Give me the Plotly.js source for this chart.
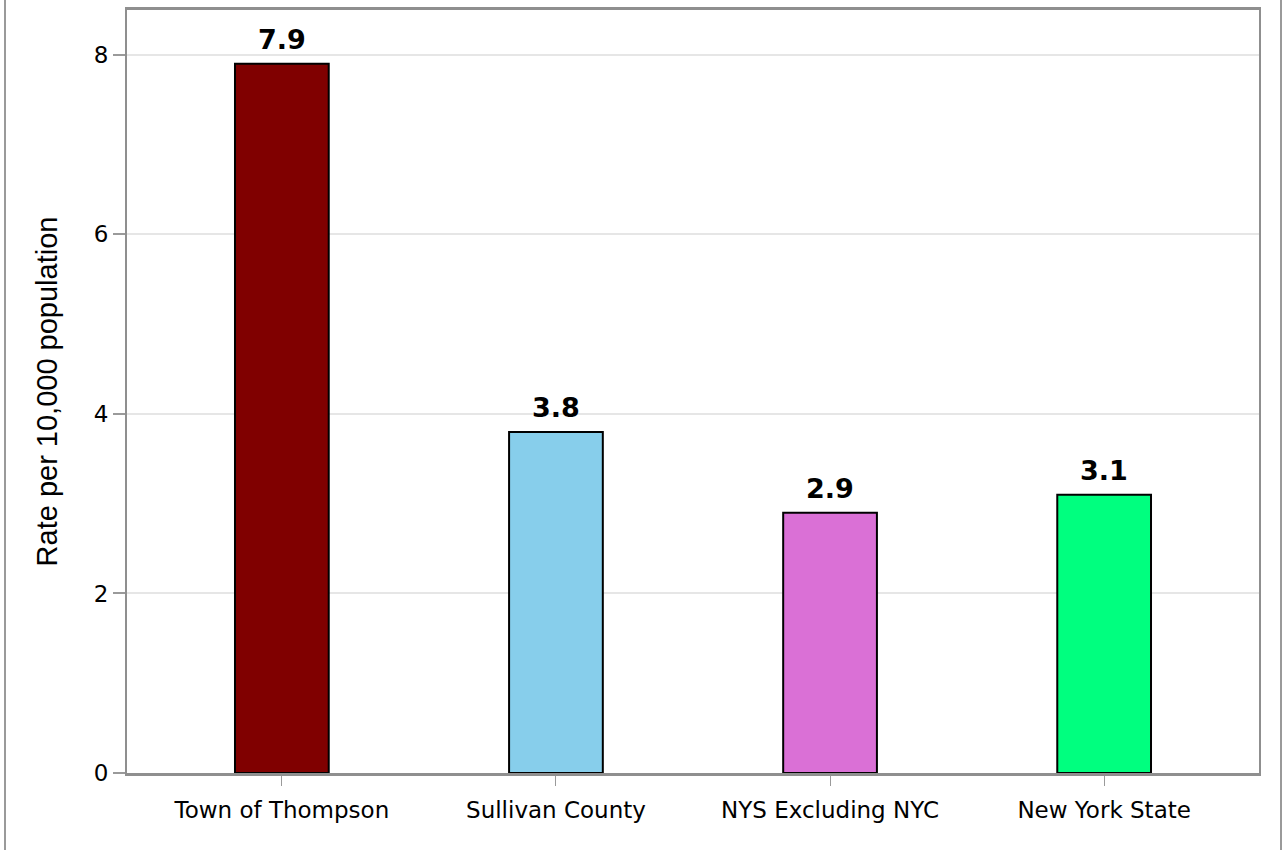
<!DOCTYPE html>
<html>
<head>
<meta charset="utf-8">
<script src="https://cdn.plot.ly/plotly-3.0.1.min.js"></script>
<style>
html,body{margin:0;padding:0;background:#fff;}
#chart{width:1283px;height:850px;}
</style>
</head>
<body>
<div id="chart"></div>
<script>
const categories = ["Town of Thompson", "Sullivan County", "NYS Excluding NYC", "New York State"];
const rates = [7.9, 3.8, 2.9, 3.1];
const barColors = ["#800000", "#87CEEB", "#DA70D6", "#00FF7F"];
const yTicks = [0, 2, 4, 6, 8];
const yTitle = "Rate per 10,000 population";

const W = 1283, H = 850;
const margin = {l: 127, r: 24, t: 10, b: 77, pad: 0};
const pw = W - margin.l - margin.r;
const px = v => (v - margin.l) / pw;

const trace = {
  type: "bar",
  x: categories,
  y: rates,
  width: 0.342,
  marker: {color: barColors, line: {color: "#000000", width: 2}},
  hoverinfo: "x+y"
};

const annotations = categories.map((c, i) => ({
  x: c, y: rates[i], xref: "x", yref: "y",
  text: "<b>" + rates[i].toFixed(1) + "</b>",
  showarrow: false, yanchor: "bottom", yshift: 7,
  font: {family: "DejaVu Sans", size: 27, color: "#000000"}
}));

const layout = {
  width: W, height: H,
  margin: margin,
  paper_bgcolor: "#ffffff",
  plot_bgcolor: "#ffffff",
  showlegend: false,
  font: {family: "DejaVu Sans", color: "#000000"},
  xaxis: {
    type: "category",
    range: [-0.565, 3.565],
    showline: true, linecolor: "#8f8f8f", linewidth: 3, mirror: true,
    ticks: "outside", ticklen: 10, tickcolor: "#9a9a9a", tickwidth: 1,
    ticklabelstandoff: 4,
    tickfont: {family: "DejaVu Sans", size: 23, color: "#000000"},
    showgrid: false, zeroline: false, fixedrange: true
  },
  yaxis: {
    range: [0, 8.5],
    tickvals: yTicks,
    ticktext: yTicks.map(String),
    showline: true, linecolor: "#8f8f8f", linewidth: 2, mirror: true,
    ticks: "outside", ticklen: 12, tickcolor: "#9a9a9a", tickwidth: 2,
    tickfont: {family: "DejaVu Sans", size: 23, color: "#000000"},
    showgrid: true, gridcolor: "#e6e6e6", gridwidth: 2,
    zeroline: false, fixedrange: true,
    title: {text: yTitle, font: {family: "Liberation Sans", size: 29, color: "#000000"}, standoff: 28}
  },
  annotations: annotations,
  shapes: [
    {type: "line", xref: "paper", yref: "paper", x0: px(5), x1: px(5), y0: -0.2, y1: 1.1, line: {color: "#9a9a9a", width: 2}},
    {type: "line", xref: "paper", yref: "paper", x0: px(1281), x1: px(1281), y0: -0.2, y1: 1.1, line: {color: "#9a9a9a", width: 2}}
  ]
};

Plotly.newPlot("chart", [trace], layout, {displayModeBar: false, staticPlot: true});
</script>
</body>
</html>
